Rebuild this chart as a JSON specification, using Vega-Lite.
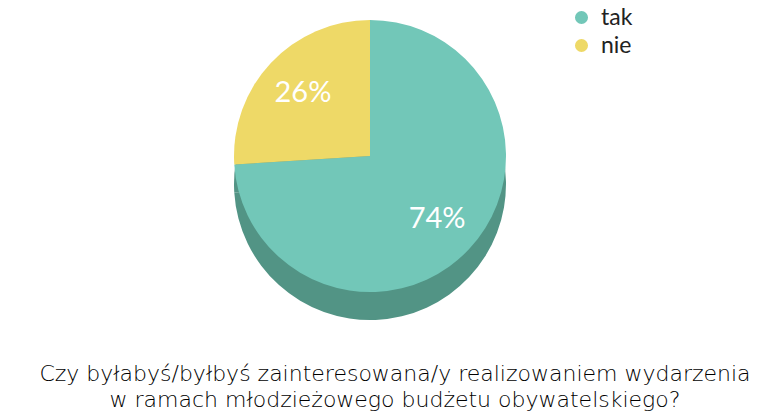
{
  "$schema": "https://vega.github.io/schema/vega-lite/v6.json",
  "width": 740,
  "height": 312,
  "padding": 0,
  "background": "white",
  "data": {"values": [
    {"odp": "tak", "v": 74, "label": "74%"},
    {"odp": "nie", "v": 26, "label": "26%"}
  ]},
  "title": {
    "text": ["Czy byłabyś/byłbyś zainteresowana/y realizowaniem wydarzenia", "w ramach młodzieżowego budżetu obywatelskiego?"],
    "orient": "bottom",
    "anchor": "middle",
    "offset": 44,
    "dx": 25,
    "font": "DejaVu Sans",
    "fontSize": 22,
    "fontWeight": 200,
    "color": "#000",
    "lineHeight": 26
  },
  "config": {"view": {"stroke": null}},
  "encoding": {
    "theta": {"field": "v", "type": "quantitative", "stack": true},
    "order": {"field": "v", "sort": "descending"}
  },
  "layer": [
    {
      "mark": {"type": "arc", "radius": 136, "yOffset": 28, "color": "#529485"}
    },
    {
      "mark": {"type": "arc", "radius": 136},
      "encoding": {
        "color": {
          "field": "odp", "type": "nominal",
          "scale": {"domain": ["tak", "nie"], "range": ["#72C7B8", "#EED967"]},
          "legend": {
            "title": null,
            "orient": "none",
            "legendX": 570,
            "legendY": 6,
            "symbolType": "circle",
            "symbolSize": 170,
            "symbolStrokeWidth": 0,
            "labelFont": "Lato",
            "labelFontSize": 23,
            "labelColor": "#222",
            "rowPadding": 4,
            "labelOffset": 8
          }
        }
      }
    },
    {
      "mark": {"type": "text", "radius": 92, "font": "Lato", "fontSize": 29, "color": "white"},
      "encoding": {"text": {"field": "label"}}
    }
  ]
}
